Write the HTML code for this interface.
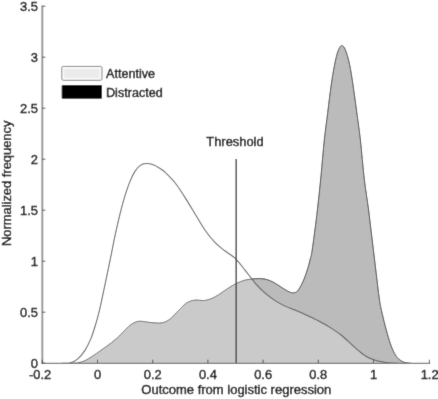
<!DOCTYPE html>
<html><head><meta charset="utf-8"><style>
html,body{margin:0;padding:0;background:#fff}
svg{display:block}
text{font-family:"Liberation Sans",sans-serif;font-size:12.9px;fill:#000;stroke:#000;stroke-width:0.38px}
</style></head><body>
<svg width="438" height="399" viewBox="0 0 438 399">
<defs><filter id="soft" x="0" y="0" width="438" height="399" filterUnits="userSpaceOnUse"><feConvolveMatrix order="3" kernelMatrix="0.0113 0.0838 0.0113 0.0838 0.6196 0.0838 0.0113 0.0838 0.0113" edgeMode="duplicate" preserveAlpha="true"/></filter></defs>
<g filter="url(#soft)">
<rect width="438" height="399" fill="#fff"/>
<path d="M70.0,363.3 C71.3,363.2 75.1,363.3 77.6,362.9 C80.1,362.4 82.6,361.7 85.1,360.6 C87.6,359.5 90.1,357.7 92.6,356.1 C95.1,354.5 97.5,352.7 100.1,350.9 C102.7,349.1 105.5,347.1 108.0,345.3 C110.5,343.5 112.8,341.7 115.0,339.8 C117.2,337.9 119.2,336.0 121.0,334.2 C122.8,332.4 124.4,330.6 126.0,329.0 C127.6,327.4 129.0,326.0 130.5,324.9 C132.0,323.8 133.4,323.0 135.0,322.4 C136.6,321.8 137.4,321.2 140.1,321.2 C142.8,321.2 147.4,322.3 151.1,322.6 C154.8,322.9 158.9,323.4 162.1,322.8 C165.3,322.2 167.6,320.9 170.3,318.8 C173.0,316.8 175.8,313.1 178.5,310.5 C181.2,307.9 184.0,304.6 186.7,302.9 C189.4,301.2 191.9,300.5 194.9,300.1 C197.9,299.7 201.3,300.9 204.5,300.5 C207.7,300.1 211.1,298.8 214.1,297.4 C217.1,296.0 219.7,293.9 222.3,292.2 C225.0,290.5 227.6,288.5 230.0,287.0 C232.4,285.5 234.5,284.3 237.0,283.2 C239.5,282.1 242.0,280.9 245.0,280.1 C248.0,279.4 251.8,278.9 255.1,278.7 C258.4,278.5 262.1,278.5 265.1,279.1 C268.1,279.7 270.4,280.8 273.1,282.1 C275.8,283.4 278.4,285.5 281.1,287.1 C283.8,288.7 287.0,290.9 289.1,291.8 C291.2,292.8 292.1,292.9 293.5,292.8 C294.9,292.7 296.2,292.2 297.5,291.0 C298.8,289.8 299.8,287.7 301.0,285.5 C302.2,283.3 303.4,280.9 304.5,278.0 C305.6,275.1 306.9,271.3 307.8,268.3 C308.7,265.3 309.3,263.1 310.0,260.0 C310.7,256.9 311.1,257.6 312.2,250.0 C313.3,242.4 315.4,226.8 316.9,214.4 C318.4,202.0 319.8,188.2 321.0,175.8 C322.2,163.4 323.2,150.5 324.3,140.0 C325.4,129.5 326.6,121.9 327.7,112.7 C328.8,103.5 330.1,92.9 331.2,85.1 C332.3,77.3 333.4,71.0 334.4,65.8 C335.4,60.6 336.2,57.1 337.1,54.0 C338.0,50.9 339.0,48.7 339.8,47.3 C340.6,45.9 341.2,45.4 342.0,45.5 C342.8,45.6 343.6,46.3 344.5,48.0 C345.4,49.7 346.3,52.1 347.3,55.5 C348.3,58.9 349.3,62.7 350.4,68.6 C351.5,74.5 352.7,82.9 353.8,90.7 C354.9,98.5 356.1,107.3 357.2,115.5 C358.3,123.7 359.2,129.2 360.4,140.0 C361.6,150.8 363.0,168.3 364.4,180.0 C365.8,191.7 367.3,200.0 368.6,210.0 C369.9,220.0 371.0,230.0 372.2,240.0 C373.4,250.0 374.6,260.0 375.8,270.0 C377.0,280.0 378.4,292.7 379.5,300.0 C380.6,307.3 381.1,308.7 382.2,313.7 C383.3,318.7 384.9,325.1 386.3,330.1 C387.7,335.1 389.0,339.9 390.4,343.8 C391.8,347.7 393.1,350.9 394.5,353.4 C395.9,355.9 397.0,357.4 398.6,358.9 C400.2,360.4 402.0,361.6 404.1,362.3 C406.2,363.0 409.9,363.1 411.0,363.3 Z" fill="#bbbbbb" stroke="none"/>
<path d="M70.0,363.3 C71.3,363.2 75.1,363.3 77.6,362.9 C80.1,362.4 82.6,361.7 85.1,360.6 C87.6,359.5 90.1,357.7 92.6,356.1 C95.1,354.5 97.5,352.7 100.1,350.9 C102.7,349.1 105.5,347.1 108.0,345.3 C110.5,343.5 112.8,341.7 115.0,339.8 C117.2,337.9 119.2,336.0 121.0,334.2 C122.8,332.4 124.4,330.6 126.0,329.0 C127.6,327.4 129.0,326.0 130.5,324.9 C132.0,323.8 133.4,323.0 135.0,322.4 C136.6,321.8 137.4,321.2 140.1,321.2 C142.8,321.2 147.4,322.3 151.1,322.6 C154.8,322.9 158.9,323.4 162.1,322.8 C165.3,322.2 167.6,320.9 170.3,318.8 C173.0,316.8 175.8,313.1 178.5,310.5 C181.2,307.9 184.0,304.6 186.7,302.9 C189.4,301.2 191.9,300.5 194.9,300.1 C197.9,299.7 201.3,300.9 204.5,300.5 C207.7,300.1 211.1,298.8 214.1,297.4 C217.1,296.0 219.7,293.9 222.3,292.2 C225.0,290.5 227.6,288.5 230.0,287.0 C232.4,285.5 234.5,284.3 237.0,283.2 C239.5,282.1 242.0,280.9 245.0,280.1 C248.0,279.4 251.8,278.9 255.1,278.7 C258.4,278.5 262.1,278.5 265.1,279.1 C268.1,279.7 270.4,280.8 273.1,282.1 C275.8,283.4 278.4,285.5 281.1,287.1 C283.8,288.7 287.0,290.9 289.1,291.8 C291.2,292.8 292.1,292.9 293.5,292.8 C294.9,292.7 296.2,292.2 297.5,291.0 C298.8,289.8 299.8,287.7 301.0,285.5 C302.2,283.3 303.4,280.9 304.5,278.0 C305.6,275.1 306.9,271.3 307.8,268.3 C308.7,265.3 309.3,263.1 310.0,260.0 C310.7,256.9 311.1,257.6 312.2,250.0 C313.3,242.4 315.4,226.8 316.9,214.4 C318.4,202.0 319.8,188.2 321.0,175.8 C322.2,163.4 323.2,150.5 324.3,140.0 C325.4,129.5 326.6,121.9 327.7,112.7 C328.8,103.5 330.1,92.9 331.2,85.1 C332.3,77.3 333.4,71.0 334.4,65.8 C335.4,60.6 336.2,57.1 337.1,54.0 C338.0,50.9 339.0,48.7 339.8,47.3 C340.6,45.9 341.2,45.4 342.0,45.5 C342.8,45.6 343.6,46.3 344.5,48.0 C345.4,49.7 346.3,52.1 347.3,55.5 C348.3,58.9 349.3,62.7 350.4,68.6 C351.5,74.5 352.7,82.9 353.8,90.7 C354.9,98.5 356.1,107.3 357.2,115.5 C358.3,123.7 359.2,129.2 360.4,140.0 C361.6,150.8 363.0,168.3 364.4,180.0 C365.8,191.7 367.3,200.0 368.6,210.0 C369.9,220.0 371.0,230.0 372.2,240.0 C373.4,250.0 374.6,260.0 375.8,270.0 C377.0,280.0 378.4,292.7 379.5,300.0 C380.6,307.3 381.1,308.7 382.2,313.7 C383.3,318.7 384.9,325.1 386.3,330.1 C387.7,335.1 389.0,339.9 390.4,343.8 C391.8,347.7 393.1,350.9 394.5,353.4 C395.9,355.9 397.0,357.4 398.6,358.9 C400.2,360.4 402.0,361.6 404.1,362.3 C406.2,363.0 409.9,363.1 411.0,363.3" fill="none" stroke="#404040" stroke-width="1"/>
<path d="M62.0,363.3 C63.3,363.2 67.4,363.6 70.0,362.9 C72.6,362.2 75.1,361.2 77.6,359.1 C80.1,357.0 82.8,353.6 85.1,350.1 C87.3,346.6 89.3,342.4 91.1,338.1 C92.8,333.8 94.2,329.2 95.6,324.5 C97.0,319.8 97.9,316.8 99.5,310.1 C101.1,303.4 103.3,292.5 105.1,284.2 C106.9,275.9 108.4,268.2 110.1,260.1 C111.8,252.0 113.3,243.6 115.0,235.8 C116.7,228.1 118.4,220.3 120.1,213.6 C121.8,206.9 123.4,200.8 125.1,195.4 C126.8,190.0 128.4,185.2 130.1,181.1 C131.8,177.0 133.4,173.7 135.1,171.1 C136.8,168.5 138.2,166.8 140.1,165.6 C141.9,164.3 144.0,163.7 146.2,163.6 C148.4,163.5 150.9,164.0 153.2,164.8 C155.5,165.6 158.0,167.2 160.0,168.4 C162.0,169.6 162.5,169.8 165.0,172.2 C167.5,174.6 171.7,178.6 175.0,182.8 C178.3,187.0 181.8,192.4 185.1,197.6 C188.4,202.8 191.8,208.5 195.1,213.9 C198.4,219.3 201.8,225.4 205.1,230.2 C208.4,235.0 211.8,239.2 215.2,242.7 C218.5,246.2 221.9,248.4 225.2,251.0 C228.5,253.6 231.7,255.0 235.0,258.2 C238.3,261.4 241.7,266.0 245.0,270.1 C248.3,274.2 251.8,279.3 255.1,283.1 C258.4,286.9 261.8,290.2 265.1,293.1 C268.4,296.0 271.8,298.4 275.1,300.6 C278.4,302.8 281.8,304.5 285.1,306.1 C288.4,307.7 291.8,308.7 295.1,310.1 C298.4,311.5 301.5,312.8 305.0,314.4 C308.5,316.0 312.3,317.7 316.0,319.6 C319.7,321.5 323.2,323.2 327.4,325.8 C331.6,328.4 336.5,331.4 341.1,335.0 C345.7,338.6 350.7,343.8 354.8,347.3 C358.9,350.8 362.2,353.9 365.8,356.2 C369.4,358.4 373.1,359.7 376.7,360.8 C380.3,361.9 384.1,362.4 387.7,362.8 C391.2,363.2 396.3,363.2 398.0,363.3 Z" fill="#ffffff" fill-opacity="0.23" stroke="none"/>
<path d="M62.0,363.3 C63.3,363.2 67.4,363.6 70.0,362.9 C72.6,362.2 75.1,361.2 77.6,359.1 C80.1,357.0 82.8,353.6 85.1,350.1 C87.3,346.6 89.3,342.4 91.1,338.1 C92.8,333.8 94.2,329.2 95.6,324.5 C97.0,319.8 97.9,316.8 99.5,310.1 C101.1,303.4 103.3,292.5 105.1,284.2 C106.9,275.9 108.4,268.2 110.1,260.1 C111.8,252.0 113.3,243.6 115.0,235.8 C116.7,228.1 118.4,220.3 120.1,213.6 C121.8,206.9 123.4,200.8 125.1,195.4 C126.8,190.0 128.4,185.2 130.1,181.1 C131.8,177.0 133.4,173.7 135.1,171.1 C136.8,168.5 138.2,166.8 140.1,165.6 C141.9,164.3 144.0,163.7 146.2,163.6 C148.4,163.5 150.9,164.0 153.2,164.8 C155.5,165.6 158.0,167.2 160.0,168.4 C162.0,169.6 162.5,169.8 165.0,172.2 C167.5,174.6 171.7,178.6 175.0,182.8 C178.3,187.0 181.8,192.4 185.1,197.6 C188.4,202.8 191.8,208.5 195.1,213.9 C198.4,219.3 201.8,225.4 205.1,230.2 C208.4,235.0 211.8,239.2 215.2,242.7 C218.5,246.2 221.9,248.4 225.2,251.0 C228.5,253.6 231.7,255.0 235.0,258.2 C238.3,261.4 241.7,266.0 245.0,270.1 C248.3,274.2 251.8,279.3 255.1,283.1 C258.4,286.9 261.8,290.2 265.1,293.1 C268.4,296.0 271.8,298.4 275.1,300.6 C278.4,302.8 281.8,304.5 285.1,306.1 C288.4,307.7 291.8,308.7 295.1,310.1 C298.4,311.5 301.5,312.8 305.0,314.4 C308.5,316.0 312.3,317.7 316.0,319.6 C319.7,321.5 323.2,323.2 327.4,325.8 C331.6,328.4 336.5,331.4 341.1,335.0 C345.7,338.6 350.7,343.8 354.8,347.3 C358.9,350.8 362.2,353.9 365.8,356.2 C369.4,358.4 373.1,359.7 376.7,360.8 C380.3,361.9 384.1,362.4 387.7,362.8 C391.2,363.2 396.3,363.2 398.0,363.3" fill="none" stroke="#5c5c5c" stroke-width="1.05"/>
<line x1="236.2" y1="159" x2="236.2" y2="363" stroke="#484848" stroke-width="1.5"/>
<line x1="42.3" y1="5.6" x2="42.3" y2="364" stroke="#999" stroke-width="2"/>
<line x1="41.3" y1="363.3" x2="430.3" y2="363.3" stroke="#777" stroke-width="1.25"/>
<g stroke="#333" stroke-width="0.8" fill="none">
<line x1="42.3" y1="363" x2="42.3" y2="359.7"/><line x1="97.5" y1="363" x2="97.5" y2="359.7"/><line x1="152.7" y1="363" x2="152.7" y2="359.7"/><line x1="207.9" y1="363" x2="207.9" y2="359.7"/><line x1="263.1" y1="363" x2="263.1" y2="359.7"/><line x1="318.3" y1="363" x2="318.3" y2="359.7"/><line x1="373.5" y1="363" x2="373.5" y2="359.7"/><line x1="429.4" y1="363" x2="429.4" y2="359.7"/><line x1="42.3" y1="363.2" x2="45.4" y2="363.2"/><line x1="42.3" y1="312.2" x2="45.4" y2="312.2"/><line x1="42.3" y1="261.2" x2="45.4" y2="261.2"/><line x1="42.3" y1="210.2" x2="45.4" y2="210.2"/><line x1="42.3" y1="159.2" x2="45.4" y2="159.2"/><line x1="42.3" y1="108.2" x2="45.4" y2="108.2"/><line x1="42.3" y1="57.2" x2="45.4" y2="57.2"/><line x1="42.3" y1="6.2" x2="45.4" y2="6.2"/>
</g>
<text x="40.1" y="378.5" text-anchor="middle">-0.2</text><text x="97.5" y="378.5" text-anchor="middle">0</text><text x="152.7" y="378.5" text-anchor="middle">0.2</text><text x="207.9" y="378.5" text-anchor="middle">0.4</text><text x="263.1" y="378.5" text-anchor="middle">0.6</text><text x="318.3" y="378.5" text-anchor="middle">0.8</text><text x="373.5" y="378.5" text-anchor="middle">1</text><text x="429.6" y="378.5" text-anchor="middle">1.2</text>
<text x="38" y="367.7" text-anchor="end">0</text><text x="38" y="316.7" text-anchor="end">0.5</text><text x="38" y="265.7" text-anchor="end">1</text><text x="38" y="214.7" text-anchor="end">1.5</text><text x="38" y="163.7" text-anchor="end">2</text><text x="38" y="112.7" text-anchor="end">2.5</text><text x="38" y="61.7" text-anchor="end">3</text><text x="38" y="10.7" text-anchor="end">3.5</text>
<rect x="61.8" y="66.4" width="40.2" height="13.9" rx="1.5" fill="#f9f9f9" stroke="#858585" stroke-width="1"/>
<rect x="64.3" y="68.9" width="35.2" height="8.9" fill="#ebebeb"/>
<rect x="61.7" y="85" width="40.3" height="13.7" rx="1" fill="#000"/>
<text x="106" y="78.3" style="font-size:12.6px">Attentive</text>
<text x="106" y="96.5" style="font-size:12.6px">Distracted</text>
<text x="206.3" y="146">Threshold</text>
<text x="141.3" y="394.4" style="font-size:13px">Outcome from logistic regression</text>
<text transform="translate(10.6,246) rotate(-90)">Normalized frequency</text>
</g>
</svg>
</body></html>
